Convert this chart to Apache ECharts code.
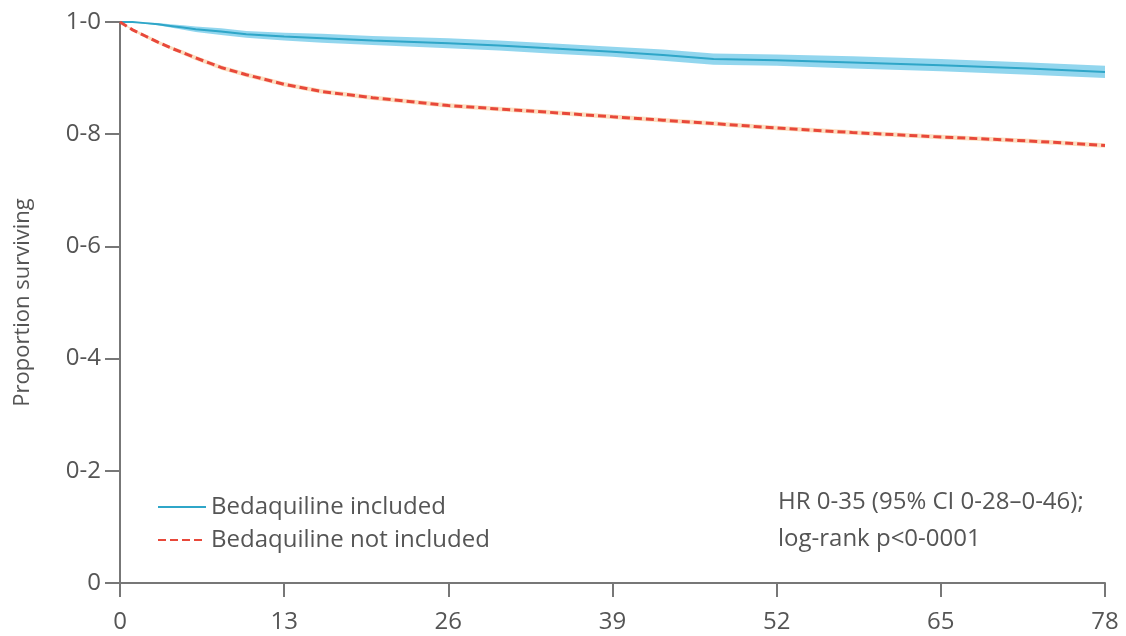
<!DOCTYPE html>
<html>
<head>
<meta charset="utf-8">
<script src="https://cdn.jsdelivr.net/npm/echarts@6/dist/echarts.min.js"></script>
<style>
  html, body { margin: 0; padding: 0; background: #fff; }
  #chart { width: 1126px; height: 636px; }
</style>
</head>
<body>
<div id="chart"></div>
<script>
// weeks since start
var weeks = [0, 1, 2, 3, 4, 5, 6, 8, 10, 13, 16, 20, 26, 30, 34, 39, 43, 47, 52, 58, 65, 72, 78];
// Bedaquiline included
var bdqIn = [1.0, 1.0, 0.998, 0.996, 0.993, 0.99, 0.987, 0.983, 0.978, 0.974, 0.971, 0.967, 0.962, 0.958, 0.953, 0.947, 0.941, 0.934, 0.932, 0.928, 0.923, 0.917, 0.911];
var bdqInLow = [1.0, 0.999, 0.997, 0.994, 0.990, 0.986, 0.982, 0.977, 0.972, 0.967, 0.963, 0.959, 0.953, 0.949, 0.944, 0.938, 0.931, 0.924, 0.922, 0.917, 0.912, 0.906, 0.900];
var bdqInHigh = [1.0, 1.0, 0.999, 0.998, 0.996, 0.994, 0.992, 0.989, 0.984, 0.981, 0.979, 0.975, 0.971, 0.967, 0.962, 0.956, 0.951, 0.944, 0.942, 0.939, 0.934, 0.928, 0.922];
// Bedaquiline not included
var bdqOut = [1.0, 0.986, 0.975, 0.964, 0.954, 0.945, 0.936, 0.919, 0.906, 0.889, 0.876, 0.865, 0.851, 0.845, 0.839, 0.831, 0.825, 0.819, 0.811, 0.803, 0.795, 0.788, 0.780];
var bdqOutLow = [1.0, 0.984, 0.972, 0.961, 0.951, 0.941, 0.932, 0.915, 0.902, 0.885, 0.872, 0.861, 0.847, 0.841, 0.835, 0.827, 0.821, 0.815, 0.807, 0.799, 0.791, 0.784, 0.776];
var bdqOutHigh = [1.0, 0.988, 0.978, 0.967, 0.957, 0.949, 0.940, 0.923, 0.910, 0.893, 0.880, 0.869, 0.855, 0.849, 0.843, 0.835, 0.829, 0.823, 0.815, 0.807, 0.799, 0.792, 0.784];
var xTicks = [0, 13, 26, 39, 52, 65, 78];
var yTicks = ['0', '0-2', '0-4', '0-6', '0-8', '1-0'];

var font = '"Open Sans", sans-serif';

function pairs(ys) {
    return weeks.map(function (w, i) { return [w, ys[i]]; });
}

// band polygon through the axes
function band(low, high, color) {
    return {
        type: 'custom',
        silent: true,
        data: [0],
        z: 1,
        renderItem: function (params, api) {
            var pts = [];
            for (var i = 0; i < weeks.length; i++) pts.push(api.coord([weeks[i], high[i]]));
            for (var j = weeks.length - 1; j >= 0; j--) pts.push(api.coord([weeks[j], low[j]]));
            return { type: 'polygon', shape: { points: pts }, style: { fill: color } };
        }
    };
}

var myChart = echarts.init(document.getElementById('chart'));
var option = {
    animation: false,
    grid: { left: 120, right: 21, top: 22, bottom: 53 },
    legend: {
        data: ['Bedaquiline included', 'Bedaquiline not included'],
        orient: 'vertical',
        left: 152,
        top: 490,
        itemWidth: 48,
        itemHeight: 14,
        itemGap: 9,
        itemStyle: { opacity: 0 },
        textStyle: { fontFamily: font, fontSize: 24, color: '#555' }
    },
    xAxis: {
        type: 'value',
        min: 0,
        max: 78,
        interval: 13,
        axisLine: { lineStyle: { color: '#777', width: 2 } },
        axisTick: { length: 14, lineStyle: { color: '#777', width: 2 } },
        axisLabel: {
            fontFamily: font, fontSize: 24, color: '#555', margin: 27,
            formatter: function (v) { return xTicks.indexOf(v) >= 0 ? String(v) : ''; }
        },
        splitLine: { show: false }
    },
    yAxis: {
        type: 'value',
        min: 0,
        max: 1,
        interval: 0.2,
        name: 'Proportion surviving',
        nameLocation: 'middle',
        nameGap: 86,
        nameTextStyle: { fontFamily: font, fontSize: 22, color: '#555' },
        axisLine: { show: true, lineStyle: { color: '#777', width: 2 } },
        axisTick: { show: true, length: 15, lineStyle: { color: '#777', width: 2 } },
        axisLabel: {
            fontFamily: font, fontSize: 24, color: '#555', margin: 19,
            formatter: function (v) { return yTicks[Math.round(v * 5)]; }
        },
        splitLine: { show: false }
    },
    series: [
        band(bdqInLow, bdqInHigh, 'rgba(110,200,232,0.75)'),
        band(bdqOutLow, bdqOutHigh, 'rgba(250,200,150,0.6)'),
        {
            name: 'Bedaquiline included',
            type: 'line',
            data: pairs(bdqIn),
            symbol: 'none',
            z: 3,
            color: '#2fa6c8',
            lineStyle: { color: '#2fa6c8', width: 2 }
        },
        {
            name: 'Bedaquiline not included',
            type: 'line',
            data: pairs(bdqOut),
            symbol: 'none',
            z: 3,
            color: '#e8483a',
            lineStyle: { color: '#e8483a', width: 3, type: [8, 4] }
        }
    ],
    graphic: [
        {
            type: 'text', left: 778, top: 490,
            style: { text: 'HR 0-35 (95% CI 0-28–0-46);', font: '24px ' + font, fill: '#555' }
        },
        {
            type: 'text', left: 778, top: 527,
            style: { text: 'log-rank p<0-0001', font: '24px ' + font, fill: '#555' }
        }
    ]
};
myChart.setOption(option);
</script>
</body>
</html>
